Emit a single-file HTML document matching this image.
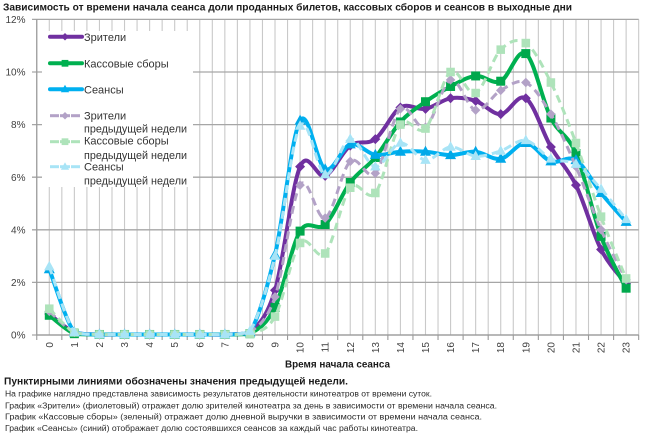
<!DOCTYPE html>
<html><head><meta charset="utf-8"><style>
html,body{margin:0;padding:0;background:#fff;}
svg{display:block;font-family:"Liberation Sans","DejaVu Sans",sans-serif;}
</style></head><body>
<svg id="s" width="650" height="435" viewBox="0 0 650 435" xmlns="http://www.w3.org/2000/svg">
<rect width="650" height="435" fill="#fff"/>
<g id="grid"></g>
<g id="series"></g>
<!-- legend box -->
<rect x="42" y="31" width="151" height="156" fill="#fff"/>
<g id="legend"></g>
<!-- title -->
<text x="3" y="10.5" font-size="10.5" font-weight="bold" fill="#1a1a1a" textLength="569" lengthAdjust="spacingAndGlyphs">Зависимость от времени начала сеанса доли проданных билетов, кассовых сборов и сеансов в выходные дни</text>
<!-- y labels -->
<g font-size="10" fill="#404040" text-anchor="end">
<text x="25.5" y="338.6">0%</text>
<text x="25.5" y="286">2%</text>
<text x="25.5" y="233.4">4%</text>
<text x="25.5" y="180.8">6%</text>
<text x="25.5" y="128.2">8%</text>
<text x="25.5" y="75.6">10%</text>
<text x="25.5" y="23">12%</text>
</g>
<g id="xlabels" font-size="10" fill="#404040" text-anchor="end">
<text transform="translate(52.8,342) rotate(-90)">0</text>
<text transform="translate(77.9,342) rotate(-90)">1</text>
<text transform="translate(103,342) rotate(-90)">2</text>
<text transform="translate(128,342) rotate(-90)">3</text>
<text transform="translate(153.1,342) rotate(-90)">4</text>
<text transform="translate(178.2,342) rotate(-90)">5</text>
<text transform="translate(203.3,342) rotate(-90)">6</text>
<text transform="translate(228.4,342) rotate(-90)">7</text>
<text transform="translate(253.4,342) rotate(-90)">8</text>
<text transform="translate(278.5,342) rotate(-90)">9</text>
<text transform="translate(303.6,342) rotate(-90)">10</text>
<text transform="translate(328.7,342) rotate(-90)">11</text>
<text transform="translate(353.8,342) rotate(-90)">12</text>
<text transform="translate(378.8,342) rotate(-90)">13</text>
<text transform="translate(403.9,342) rotate(-90)">14</text>
<text transform="translate(429,342) rotate(-90)">15</text>
<text transform="translate(454.1,342) rotate(-90)">16</text>
<text transform="translate(479.2,342) rotate(-90)">17</text>
<text transform="translate(504.2,342) rotate(-90)">18</text>
<text transform="translate(529.3,342) rotate(-90)">19</text>
<text transform="translate(554.4,342) rotate(-90)">20</text>
<text transform="translate(579.5,342) rotate(-90)">21</text>
<text transform="translate(604.6,342) rotate(-90)">22</text>
<text transform="translate(629.6,342) rotate(-90)">23</text>
</g>
<text x="285" y="367.5" font-size="10" font-weight="bold" fill="#1a1a1a" textLength="105" lengthAdjust="spacingAndGlyphs">Время начала сеанса</text>
<!-- legend texts -->
<g font-size="11" fill="#333">
<text x="84" y="41.2">Зрители</text>
<text x="84" y="67.5">Кассовые сборы</text>
<text x="84" y="93.5">Сеансы</text>
<text x="84" y="119.5">Зрители</text>
<text x="84" y="132.5" textLength="103" lengthAdjust="spacingAndGlyphs">предыдущей недели</text>
<text x="84" y="144.5">Кассовые сборы</text>
<text x="84" y="159" textLength="103" lengthAdjust="spacingAndGlyphs">предыдущей недели</text>
<text x="84" y="170.5">Сеансы</text>
<text x="84" y="184.5" textLength="103" lengthAdjust="spacingAndGlyphs">предыдущей недели</text>
</g>
<!-- bottom notes -->
<text x="4" y="384.3" font-size="10" font-weight="bold" fill="#1a1a1a" textLength="344" lengthAdjust="spacingAndGlyphs">Пунктирными линиями обозначены значения предыдущей недели.</text>
<g font-size="8" fill="#2a2a2a">
<text x="5" y="396.7" textLength="427" lengthAdjust="spacingAndGlyphs">На графике наглядно представлена зависимость результатов деятельности кинотеатров от времени суток.</text>
<text x="5" y="408.3" textLength="492" lengthAdjust="spacingAndGlyphs">График «Зрители» (фиолетовый) отражает долю зрителей кинотеатра за день в зависимости от времени начала сеанса.</text>
<text x="5" y="419.5" textLength="477" lengthAdjust="spacingAndGlyphs">График «Кассовые сборы» (зеленый) отражает долю дневной выручки в зависимости от времени начала сеанса.</text>
<text x="5" y="431" textLength="413" lengthAdjust="spacingAndGlyphs">График «Сеансы» (синий) отображает долю состоявшихся сеансов за каждый час работы кинотеатра.</text>
</g>
</svg>
<script>
(function(){
var NS="http://www.w3.org/2000/svg";
function el(tag,attrs,parent){var e=document.createElementNS(NS,tag);for(var k in attrs)e.setAttribute(k,attrs[k]);parent.appendChild(e);return e;}
function sx(i){return 49.29+25.08*i;}
function sy(v){return 335-26.3*v;}
var grid=document.getElementById('grid');
for(var k=0;k<=48;k++){var x=36.75+12.54*k;el('line',{x1:x,y1:19.4,x2:x,y2:335,stroke:'#c9c9c9','stroke-width':1.1},grid);}
for(var v=0;v<=12;v+=2){var y=sy(v);el('line',{x1:32,y1:y,x2:638.7,y2:y,stroke:'#a6a6a6','stroke-width':1.3},grid);}
el('line',{x1:36.75,y1:19.4,x2:36.75,y2:335,stroke:'#9a9a9a','stroke-width':1.2},grid);
el('line',{x1:36.75,y1:335,x2:638.7,y2:335,stroke:'#9a9a9a','stroke-width':1.3},grid);
for(var c=0;c<=24;c++){var x=36.75+25.08*c;el('line',{x1:x,y1:335,x2:x,y2:340,stroke:'#9a9a9a','stroke-width':1.1},grid);}

var z=0.02;
var D={
 purple:[0.8,0.1,z,z,z,z,z,z,0.1,1.7,6.4,6.05,7.2,7.45,8.65,8.6,9.0,8.9,8.4,9.0,7.15,5.7,3.25,1.95],
 green:[0.75,0.05,z,z,z,z,z,z,0.05,1.05,3.95,4.2,5.8,6.75,8.1,8.87,9.45,9.85,9.65,10.7,8.25,6.9,3.75,1.78],
 blue:[2.5,0.1,z,z,z,z,z,z,0.1,3.05,8.15,6.3,7.25,6.85,6.97,6.97,6.84,6.97,6.7,7.3,6.6,6.65,5.4,4.3],
 lpurple:[0.9,0.1,z,z,z,z,z,z,0.1,1.45,5.7,4.45,6.6,6.15,8.6,7.9,9.7,8.55,9.3,9.6,8.4,6.4,4.0,2.1],
 lgreen:[1.0,0.1,z,z,z,z,z,z,0.05,0.7,3.5,3.1,5.6,5.4,8.0,7.85,10.0,9.2,10.85,11.1,9.6,7.3,4.5,2.15],
 lblue:[2.6,0.1,z,z,z,z,z,z,0.15,3.0,7.95,6.1,7.45,6.4,7.3,6.65,7.15,6.8,7.0,7.4,6.7,6.5,5.55,4.4]
};
function smooth(vals){
 var p=vals.map(function(v,i){return [sx(i),sy(v)];});
 var d='M'+p[0][0].toFixed(2)+','+p[0][1].toFixed(2);
 var ymax=sy(0.01);
 for(var i=0;i<p.length-1;i++){
  var p0=p[i-1]||p[i],p1=p[i],p2=p[i+1],p3=p[i+2]||p[i+1];
  var c1x=p1[0]+(p2[0]-p0[0])/6,c1y=p1[1]+(p2[1]-p0[1])/6;
  var c2x=p2[0]-(p3[0]-p1[0])/6,c2y=p2[1]-(p3[1]-p1[1])/6;
  if(c1y>ymax)c1y=Math.max(ymax,Math.max(p1[1],p2[1])>ymax?Math.min(p1[1],p2[1]):ymax);
  if(c2y>ymax)c2y=Math.max(ymax,Math.max(p1[1],p2[1])>ymax?Math.min(p1[1],p2[1]):ymax);
  d+=' C'+c1x.toFixed(2)+','+c1y.toFixed(2)+' '+c2x.toFixed(2)+','+c2y.toFixed(2)+' '+p2[0].toFixed(2)+','+p2[1].toFixed(2);
 }
 return d;
}
function marker(type,x,y,fill,g,s){
 s=s||1;
 if(type==='d'){el('polygon',{points:[x,y-5*s,x+5*s,y,x,y+5*s,x-5*s,y].join(','),fill:fill},g);}
 else if(type==='s'){el('rect',{x:x-4.5*s,y:y-4.5*s,width:9*s,height:9*s,fill:fill},g);}
 else {el('polygon',{points:[x,y-6*s,x+5.5*s,y+4*s,x-5.5*s,y+4*s].join(','),fill:fill},g);}
}
var S=document.getElementById('series');
var cfg=[
 ['purple','#7030a0','#7030a0','d',false],
 ['green','#00b050','#00a84c','s',false],
 ['blue','#00b0f0','#00a8e8','t',false],
 ['lpurple','#b3a2c7','#b3a2c7','d',true],
 ['lgreen','#aee3ba','#aee3ba','s',true],
 ['lblue','#a8e4f6','#a8e4f6','t',true]
];
cfg.forEach(function(c){
 var g=el('g',{},S);
 var a={d:smooth(D[c[0]]),fill:'none',stroke:c[1],'stroke-width':c[4]?3:4,'stroke-linejoin':'round','stroke-linecap':'round'};
 if(c[4]){a['stroke-dasharray']='8,5';a['stroke-linecap']='butt';}
 el('path',a,g);
 D[c[0]].forEach(function(v,i){marker(c[3],sx(i),sy(v),c[2],g,c[4]?0.95:1);});
});
var L=document.getElementById('legend');
var leg=[[36.7,'#7030a0','d',false],[63.3,'#00b050','s',false],[89.3,'#00b0f0','t',false],
 [115.7,'#b3a2c7','d',true],[141.7,'#aee3ba','s',true],[166.7,'#a8e4f6','t',true]];
leg.forEach(function(l){
 if(l[3]){
  el('line',{x1:50,y1:l[0],x2:59,y2:l[0],stroke:l[1],'stroke-width':3},L);
  el('line',{x1:71,y1:l[0],x2:80,y2:l[0],stroke:l[1],'stroke-width':3},L);
  el('line',{x1:60,y1:l[0],x2:70,y2:l[0],stroke:l[1],'stroke-width':3},L);
 } else {
  el('line',{x1:50,y1:l[0],x2:82,y2:l[0],stroke:l[1],'stroke-width':4,'stroke-linecap':'round'},L);
 }
 marker(l[2],65,l[0],l[1],L,0.75);
});
})();
</script>
</body></html>
